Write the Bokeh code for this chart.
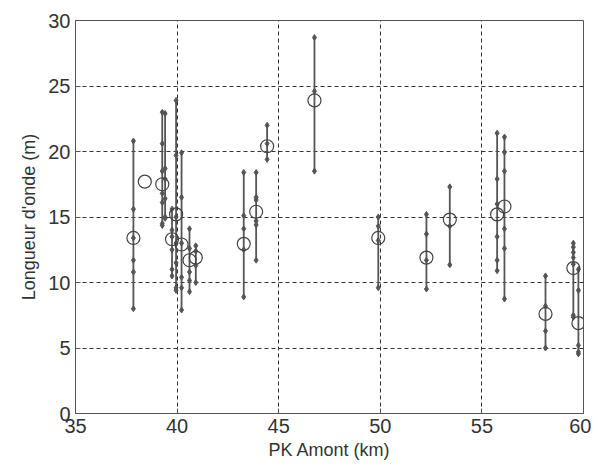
from bokeh.plotting import figure
from bokeh.models import Range1d, FixedTicker
from bokeh.embed import file_html
from bokeh.resources import INLINE

nan = float("nan")

# PK position of each measurement group (km)
pk = [37.85, 38.41, 39.27, 39.41, 39.75, 39.95, 40.22, 40.61, 40.92,
      43.28, 43.89, 44.43, 46.76, 49.90, 52.27, 53.42, 55.75, 56.11,
      58.13, 59.50, 59.75]
# mean wavelength (m) of each group (open circles; nan = none drawn)
mean_wl = [13.4, 17.7, 17.5, nan, 13.3, 15.2, 12.9, 11.7, 11.9,
           12.95, 15.4, 20.4, 23.9, 13.4, 11.9, 14.8, 15.2, 15.8,
           7.6, 11.1, 6.9]
# individual wavelengths (m) of each group (small diamonds)
samples = [
    [20.8, 15.6, 13.4, 11.7, 10.8, 8.0],
    [],
    [23.0, 20.6, 18.5, 16.8, 16.1, 14.5, 14.35],
    [22.9, 18.7, 17.9, 16.4, 15.0, 14.9],
    [15.6, 14.0, 13.5, 12.5, 11.0, 10.5],
    [23.9, 19.7, 15.0, 13.0, 11.5, 9.6, 9.4],
    [19.9, 16.5, 13.0, 10.4, 9.6, 7.9],
    [14.1, 12.6, 10.8, 10.15, 9.3],
    [12.8, 12.4, 11.3, 10.0],
    [18.4, 15.1, 14.1, 12.5, 8.9],
    [18.4, 16.5, 16.3, 14.7, 14.4, 11.7],
    [22.0, 20.6, 19.4],
    [28.7, 24.6, 18.5],
    [15.0, 14.3, 13.2, 9.6],
    [15.2, 13.7, 11.7, 9.5],
    [17.3, 14.3, 11.35],
    [21.4, 17.9, 16.0, 13.5, 11.7, 10.9],
    [21.1, 19.95, 18.5, 14.1, 12.6, 8.75],
    [10.5, 8.2, 6.3, 5.0],
    [13.0, 12.7, 12.3, 11.9, 11.4, 7.5, 7.35],
    [11.0, 9.4, 5.2, 4.7, 4.55],
]
x_ticks = [35, 40, 45, 50, 55, 60]
y_ticks = [0, 5, 10, 15, 20, 25, 30]

seg_x = [x for x, s in zip(pk, samples) if s]
lo = [min(s) for s in samples if s]
hi = [max(s) for s in samples if s]
sx = [x for x, s in zip(pk, samples) for _ in s]
sy = [v for s in samples for v in s]

p = figure(width=591, height=462, output_backend="svg", toolbar_location=None,
           x_range=Range1d(35, 60), y_range=Range1d(0, 30),
           min_border_left=75, min_border_right=8, min_border_top=20,
           min_border_bottom=49)
p.background_fill_color = "white"
p.border_fill_color = "white"
p.outline_line_color = "#555555"
p.outline_line_width = 1

for ax in (p.xaxis, p.yaxis):
    ax.major_label_text_font = "Liberation Sans"
    ax.major_label_text_font_size = "20px"
    ax.major_label_text_color = "#333333"
    ax.axis_label_text_font = "Liberation Sans"
    ax.axis_label_text_font_size = "18px"
    ax.axis_label_text_font_style = "normal"
    ax.axis_label_text_color = "#333333"
    ax.axis_line_color = "#555555"
    ax.major_tick_line_color = "#555555"
    ax.major_tick_in = 5
    ax.major_tick_out = 0
    ax.minor_tick_line_color = None
p.xaxis.ticker = FixedTicker(ticks=x_ticks)
p.yaxis.ticker = FixedTicker(ticks=y_ticks)
p.xaxis.axis_label = "PK Amont (km)"
p.yaxis.axis_label = "Longueur d'onde (m)"
p.xaxis.major_label_standoff = 5
p.yaxis.major_label_standoff = 5
p.xaxis.axis_label_standoff = 4
p.yaxis.axis_label_standoff = 6

for g in (p.xgrid, p.ygrid):
    g.grid_line_color = "#333333"
    g.grid_line_dash = "4 3"
    g.grid_line_width = 1

p.segment(x0=seg_x, y0=lo, x1=seg_x, y1=hi, line_color="#555555", line_width=1.8)
p.scatter(x=sx, y=sy, marker="diamond", size=6, fill_color="#555555",
          line_color="#555555")
p.scatter(x=pk, y=mean_wl, marker="circle", size=13, fill_color=None,
          line_color="#444444", line_width=1.2)

open("out.html", "w").write(file_html(p, INLINE))
